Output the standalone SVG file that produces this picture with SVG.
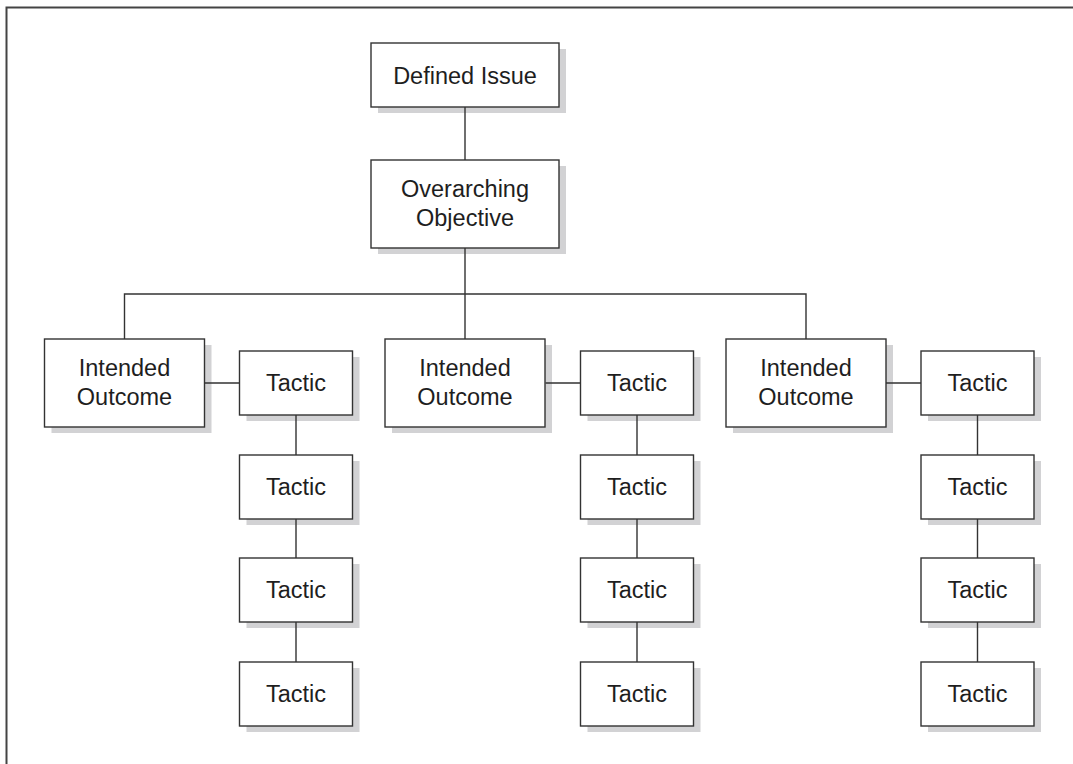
<svg xmlns="http://www.w3.org/2000/svg" width="1073" height="764" viewBox="0 0 1073 764">
<style>
.box{fill:#fff;stroke:#333;stroke-width:1.4}
.sh{fill:#d2d2d4}
.lbl{font-family:"Liberation Sans",Arial,sans-serif;font-size:23.5px;fill:#1e1e1e;text-anchor:middle}
.ln{fill:none;stroke:#333;stroke-width:1.4}
.frame{fill:none;stroke:#444;stroke-width:2}
</style>
<rect width="1073" height="764" fill="#fff"/>
<path class="frame" d="M6.5,764 V7.5 H1073"/>
<g id="defined-issue">
<rect class="sh" x="378" y="49" width="188" height="64"/>
<rect class="box" x="371" y="43" width="188" height="64"/>
<text class="lbl" x="465" y="83.5">Defined Issue</text>
</g>
<g id="overarching-objective">
<rect class="sh" x="378" y="166" width="188" height="88"/>
<rect class="box" x="371" y="160" width="188" height="88"/>
<text class="lbl" x="465" y="197">Overarching</text>
<text class="lbl" x="465" y="226">Objective</text>
</g>
<g id="outcome-1">
<rect class="sh" x="51.5" y="345" width="160" height="88"/>
<rect class="box" x="44.5" y="339" width="160" height="88"/>
<text class="lbl" x="124.5" y="376">Intended</text>
<text class="lbl" x="124.5" y="405">Outcome</text>
</g>
<g id="outcome-2">
<rect class="sh" x="392" y="345" width="160" height="88"/>
<rect class="box" x="385" y="339" width="160" height="88"/>
<text class="lbl" x="465" y="376">Intended</text>
<text class="lbl" x="465" y="405">Outcome</text>
</g>
<g id="outcome-3">
<rect class="sh" x="733" y="345" width="160" height="88"/>
<rect class="box" x="726" y="339" width="160" height="88"/>
<text class="lbl" x="806" y="376">Intended</text>
<text class="lbl" x="806" y="405">Outcome</text>
</g>
<g id="tactic-1-1"><rect class="sh" x="246.5" y="357" width="113" height="64"/><rect class="box" x="239.5" y="351" width="113" height="64"/><text class="lbl" x="296" y="391">Tactic</text></g>
<g id="tactic-1-2"><rect class="sh" x="246.5" y="461" width="113" height="64"/><rect class="box" x="239.5" y="455" width="113" height="64"/><text class="lbl" x="296" y="495">Tactic</text></g>
<g id="tactic-1-3"><rect class="sh" x="246.5" y="564" width="113" height="64"/><rect class="box" x="239.5" y="558" width="113" height="64"/><text class="lbl" x="296" y="598">Tactic</text></g>
<g id="tactic-1-4"><rect class="sh" x="246.5" y="668" width="113" height="64"/><rect class="box" x="239.5" y="662" width="113" height="64"/><text class="lbl" x="296" y="702">Tactic</text></g>
<g id="tactic-2-1"><rect class="sh" x="587.5" y="357" width="113" height="64"/><rect class="box" x="580.5" y="351" width="113" height="64"/><text class="lbl" x="637" y="391">Tactic</text></g>
<g id="tactic-2-2"><rect class="sh" x="587.5" y="461" width="113" height="64"/><rect class="box" x="580.5" y="455" width="113" height="64"/><text class="lbl" x="637" y="495">Tactic</text></g>
<g id="tactic-2-3"><rect class="sh" x="587.5" y="564" width="113" height="64"/><rect class="box" x="580.5" y="558" width="113" height="64"/><text class="lbl" x="637" y="598">Tactic</text></g>
<g id="tactic-2-4"><rect class="sh" x="587.5" y="668" width="113" height="64"/><rect class="box" x="580.5" y="662" width="113" height="64"/><text class="lbl" x="637" y="702">Tactic</text></g>
<g id="tactic-3-1"><rect class="sh" x="928" y="357" width="113" height="64"/><rect class="box" x="921" y="351" width="113" height="64"/><text class="lbl" x="977.5" y="391">Tactic</text></g>
<g id="tactic-3-2"><rect class="sh" x="928" y="461" width="113" height="64"/><rect class="box" x="921" y="455" width="113" height="64"/><text class="lbl" x="977.5" y="495">Tactic</text></g>
<g id="tactic-3-3"><rect class="sh" x="928" y="564" width="113" height="64"/><rect class="box" x="921" y="558" width="113" height="64"/><text class="lbl" x="977.5" y="598">Tactic</text></g>
<g id="tactic-3-4"><rect class="sh" x="928" y="668" width="113" height="64"/><rect class="box" x="921" y="662" width="113" height="64"/><text class="lbl" x="977.5" y="702">Tactic</text></g>
<g id="connectors">
<path class="ln" d="M465,107 V160 M465,248 V294 M124.5,339 V294 H806 V339 M465,294 V339"/>
<path class="ln" d="M204.5,383 H239.5 M545.5,383 H580.5 M886,383 H921"/>
<path class="ln" d="M296,415 V455 M296,519 V558 M296,622 V662"/>
<path class="ln" d="M637,415 V455 M637,519 V558 M637,622 V662"/>
<path class="ln" d="M977.5,415 V455 M977.5,519 V558 M977.5,622 V662"/>
</g>
</svg>
